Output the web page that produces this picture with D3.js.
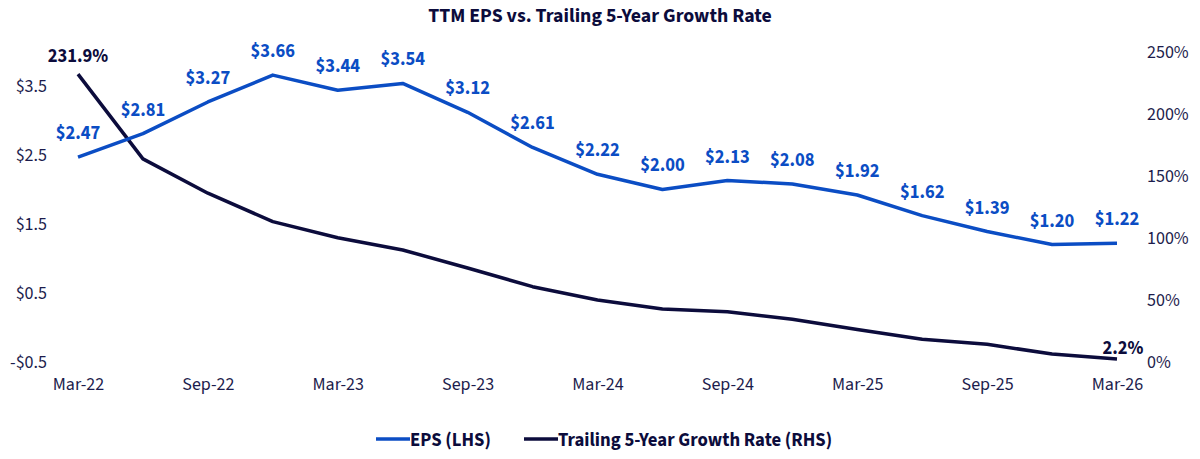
<!DOCTYPE html>
<html>
<head>
<meta charset="utf-8">
<script src="https://cdn.jsdelivr.net/npm/d3@7"></script>
<style>
  body { margin: 0; background: #fff; }
  svg text { font-family: "Source Sans Pro", "Source Sans 3", Lato, sans-serif; }
</style>
</head>
<body>
<div id="chart"></div>
<script>
const quarters = ["Mar-22","Jun-22","Sep-22","Dec-22","Mar-23","Jun-23","Sep-23","Dec-23",
                  "Mar-24","Jun-24","Sep-24","Dec-24","Mar-25","Jun-25","Sep-25","Dec-25","Mar-26"];
const eps = [2.47, 2.81, 3.27, 3.66, 3.44, 3.54, 3.12, 2.61, 2.22, 2.00, 2.13, 2.08, 1.92, 1.62, 1.39, 1.20, 1.22];
const growth = [231.9, 163.6, 135.9, 113.0, 100.0, 90.1, 75.6, 60.5, 49.8, 42.5, 40.3, 34.2, 26.0, 18.1, 14.0, 6.2, 2.2];
const tickQuarters = ["Mar-22","Sep-22","Mar-23","Sep-23","Mar-24","Sep-24","Mar-25","Sep-25","Mar-26"];
const leftTicks = [-0.5, 0.5, 1.5, 2.5, 3.5];
const rightTicks = [0, 50, 100, 150, 200, 250];

const W = 1200, H = 459;
const blue = "#0b4dc4", navy = "#0c0c3c", textCol = "#1c1c4c";

const svg = d3.select("#chart").append("svg")
  .attr("width", W).attr("height", H);

const x = d3.scalePoint().domain(quarters).range([78, 1117]);
const yL = d3.scaleLinear().domain([-0.5, 4.0]).range([361.7, 51.7]);
const yR = d3.scaleLinear().domain([0, 250]).range([361.7, 51.7]);

// title
svg.append("text")
  .attr("x", 600).attr("y", 22)
  .attr("text-anchor", "middle")
  .attr("font-size", 19.8).attr("font-weight", 700)
  .attr("fill", navy)
  .text("TTM EPS vs. Trailing 5-Year Growth Rate");

// left axis
const leftAxis = svg.append("g")
  .attr("transform", "translate(47,0)")
  .call(d3.axisLeft(yL).tickValues(leftTicks).tickSize(0).tickPadding(0)
    .tickFormat(d => (d < 0 ? "-$" : "$") + Math.abs(d).toFixed(1)));
// right axis
const rightAxis = svg.append("g")
  .attr("transform", "translate(1147,0)")
  .call(d3.axisRight(yR).tickValues(rightTicks).tickSize(0).tickPadding(0)
    .tickFormat(d => d + "%"));
// bottom axis
const bottomAxis = svg.append("g")
  .attr("transform", "translate(0,377)")
  .call(d3.axisBottom(x).tickValues(tickQuarters).tickSize(0).tickPadding(0));

[leftAxis, rightAxis, bottomAxis].forEach(a => {
  a.select(".domain").remove();
  a.selectAll("text").attr("font-size", 18).attr("fill", textCol)
    .style("font-family", "\"Source Sans Pro\", \"Source Sans 3\", Lato, sans-serif");
});
bottomAxis.selectAll("text").attr("dy", "0.71em");

// lines
const epsLine = d3.line().x((d, i) => x(quarters[i])).y(d => yL(d));
const growthLine = d3.line().x((d, i) => x(quarters[i])).y(d => yR(d));

svg.append("path").datum(growth)
  .attr("d", growthLine)
  .attr("fill", "none").attr("stroke", navy).attr("stroke-width", 3.5)
  .attr("stroke-linejoin", "round");

svg.append("path").datum(eps)
  .attr("d", epsLine)
  .attr("fill", "none").attr("stroke", blue).attr("stroke-width", 3.5)
  .attr("stroke-linejoin", "round");

// EPS labels
svg.append("g").selectAll("text").data(eps).join("text")
  .attr("x", (d, i) => x(quarters[i]))
  .attr("y", d => yL(d) - 18)
  .attr("text-anchor", "middle")
  .attr("font-size", 18.5).attr("font-weight", 700)
  .attr("fill", blue)
  .text(d => "$" + d.toFixed(2));

// growth end labels
const gl = [0, growth.length - 1];
svg.append("g").selectAll("text").data(gl).join("text")
  .attr("x", i => x(quarters[i]) + (i === 0 ? 0 : 6))
  .attr("y", i => yR(growth[i]) - (i === 0 ? 12 : 5))
  .attr("text-anchor", "middle")
  .attr("font-size", 18.5).attr("font-weight", 700)
  .attr("fill", navy)
  .text(i => growth[i].toFixed(1) + "%");

// legend
const legendItems = [
  {label: "EPS (LHS)", color: blue, x: 376},
  {label: "Trailing 5-Year Growth Rate (RHS)", color: navy, x: 524}
];
const lg = svg.append("g").selectAll("g").data(legendItems).join("g")
  .attr("transform", d => `translate(${d.x},439)`);
lg.append("line").attr("x1", 0).attr("x2", 34).attr("y1", 0).attr("y2", 0)
  .attr("stroke", d => d.color).attr("stroke-width", 3.5);
lg.append("text").attr("x", 34).attr("y", 6.5)
  .attr("font-size", 18.7).attr("font-weight", 700).attr("fill", navy)
  .text(d => d.label);
</script>
</body>
</html>
